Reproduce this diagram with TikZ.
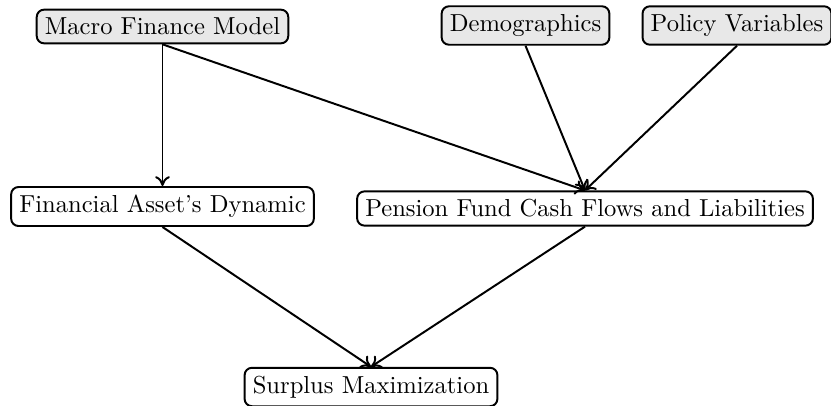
\documentclass[tikz,border=0pt]{standalone}
\usetikzlibrary{arrows.meta}
\begin{document}
\begin{tikzpicture}[x=0.407pt,y=-0.407pt,
  box/.style={draw,thick,rounded corners=3pt,inner sep=3.33pt},
  topbox/.style={box,fill=gray!18},
  conn/.style={thick,-{To[length=4pt,width=6pt]}}]
\useasboundingbox (0,0) rectangle (831,405);
\node[topbox] (macro) at (162.5,26.5) {Macro Finance Model};
\node[topbox] (demo) at (525.5,25.5) {Demographics};
\node[topbox] (policy) at (737,25.5) {Policy Variables};
\node[box] (fin) at (162.5,206.5) {Financial Asset's Dynamic};
\node[box] (pen) at (585,208.5) {Pension Fund Cash Flows and Liabilities};
\node[box] (sur) at (371,387) {Surplus Maximization};
\draw[conn] (macro.south) -- (fin.north);
\draw[conn] (macro.south) -- (pen.north);
\draw[conn] (demo.south) -- (pen.north);
\draw[conn] (policy.south) -- (pen.north);
\draw[conn] (fin.south) -- (sur.north);
\draw[conn] (pen.south) -- (sur.north);
\end{tikzpicture}
\end{document}
